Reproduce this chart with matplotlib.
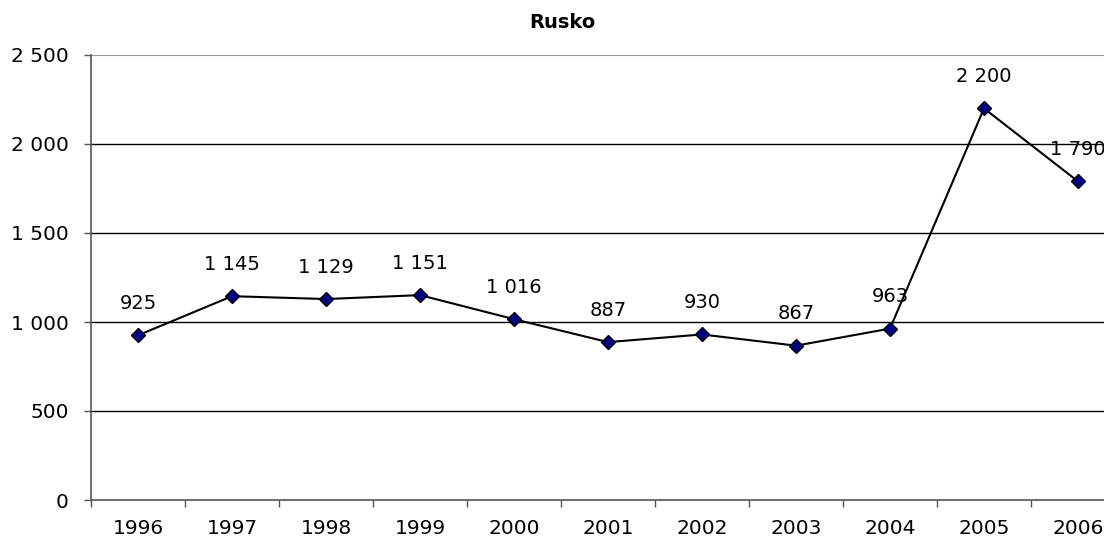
import numpy as np
import matplotlib.pyplot as plt
from matplotlib.ticker import FuncFormatter, FixedLocator, NullFormatter

years  = ['1996', '1997', '1998', '1999', '2000', '2001', '2002', '2003', '2004', '2005', '2006']
values = [925, 1145, 1129, 1151, 1016, 887, 930, 867, 963, 2200, 1790]


def fmt(v, pos=None):
	return '{:,}'.format(int(v)).replace(',', ' ')


plt.rcParams['font.family'] = 'DejaVu Sans'

fig = plt.figure(figsize=(11.04, 5.4), dpi=100)
ax = fig.add_axes([91 / 1104, 40 / 540, 1034 / 1104, 445 / 540])

x = np.arange(len(years))
ax.plot(x, values, '-', color='black', linewidth=1.5, marker='D', markersize=7,
	markerfacecolor='#000080', markeredgecolor='black', markeredgewidth=1, zorder=3)

for xi, v in zip(x, values):
	ax.annotate(fmt(v), (xi, v), xytext=(0, 23), textcoords='offset points',
		ha='center', va='center', fontsize=14)

ax.set_xlim(-0.5, len(years) - 0.5)
ax.set_ylim(0, 2500)
ax.set_yticks([0, 500, 1000, 1500, 2000, 2500])
ax.yaxis.set_major_formatter(FuncFormatter(fmt))
for yv in [500, 1000, 1500, 2000]:
	ax.axhline(yv, color='black', linewidth=1, zorder=1)
ax.axhline(2500, color='#999999', linewidth=1.5, zorder=1)

ax.set_xticks(x)
ax.set_xticklabels(years)
ax.tick_params(axis='x', which='major', length=0, pad=14, labelsize=14.5)
ax.xaxis.set_minor_locator(FixedLocator(np.arange(-0.5, len(years), 1.0)))
ax.xaxis.set_minor_formatter(NullFormatter())
ax.tick_params(axis='x', which='minor', length=5, width=1, color='#555555')
ax.tick_params(axis='y', length=5, width=1, color='#555555', labelsize=14.5, pad=11)

for s in ['top', 'right']:
	ax.spines[s].set_visible(False)
for s in ['left', 'bottom']:
	ax.spines[s].set_color('#555555')
	ax.spines[s].set_linewidth(1.2)

fig.text(562 / 1104, 1 - 22 / 540, 'Rusko', ha='center', va='center', fontsize=14, fontweight='bold')

fig.savefig('out.png', dpi=100)
